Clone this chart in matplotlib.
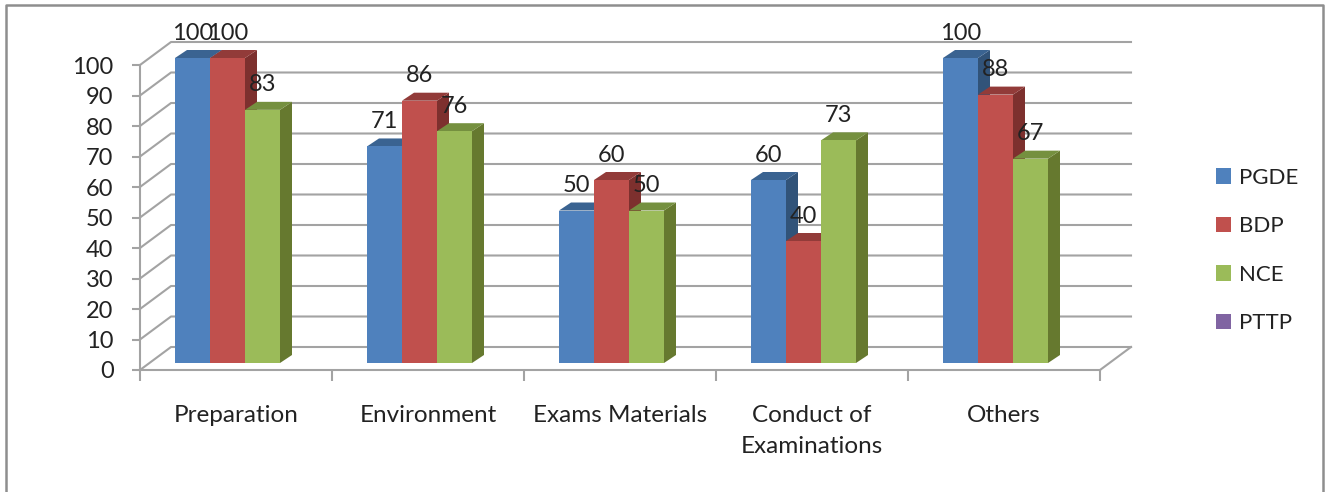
import matplotlib
matplotlib.use("Agg")
import matplotlib.pyplot as plt
from matplotlib.patches import Polygon, Patch
from matplotlib.lines import Line2D

plt.rcParams['font.family'] = ['Lato', 'DejaVu Sans']

categories = ["Preparation", "Environment", "Exams Materials", "Conduct of\nExaminations", "Others"]
series = ["PGDE", "BDP", "NCE", "PTTP"]
pgde = [100, 71, 50, 60, 100]
bdp = [100, 86, 60, 40, 88]
nce = [83, 76, 50, 73, 67]
yticks = list(range(0, 101, 10))

front = ["#4F81BD", "#C0504D", "#9BBB59", "#8064A2"]
top = ["#3A6391", "#923B39", "#75903F"]
side = ["#315379", "#7D302E", "#66792F"]
grid = "#a3a3a3"
txt = "#222222"

W, H = 1328, 492
fig = plt.figure(figsize=(W / 100, H / 100), dpi=100)

# front plane of the 3d box, pixel box 140..1100 x 65..370
ax = fig.add_axes([140 / W, 1 - 370 / H, 960 / W, 305 / H])
ax.set_xlim(0, 5)
ax.set_ylim(0, 100)
ux = 5 / 960    # data units per pixel
uy = 100 / 305

# wall / floor gridlines
dx, dy = 31 * ux, 23 * uy
for v in yticks:
    ax.plot([0, dx, 5 + dx], [v, v + dy, v + dy], color=grid, lw=1.5, clip_on=False, zorder=1)
ax.plot([5, 5 + dx], [0, dy], color=grid, lw=1.5, clip_on=False, zorder=1)

# bars
bw = 35 * ux
sx, sy = 12 * ux, 8 * uy
base = 7 * uy
start = 35 * ux
for i in range(len(categories)):
    for j, vals in enumerate([pgde, bdp, nce]):
        x0 = i + start + j * bw
        x1 = x0 + bw
        b = base
        t = vals[i] + base
        z = 2 + i + j * 0.1
        ax.add_patch(Polygon([(x1, b), (x1 + sx, b + sy), (x1 + sx, t + sy), (x1, t)],
                             fc=side[j], ec="none", zorder=z, clip_on=False))
        ax.add_patch(Polygon([(x0, t), (x0 + sx, t + sy), (x1 + sx, t + sy), (x1, t)],
                             fc=top[j], ec="none", zorder=z, clip_on=False))
        ax.add_patch(Polygon([(x0, b), (x1, b), (x1, t), (x0, t)],
                             fc=front[j], ec="none", zorder=z + 0.01, clip_on=False))
        ax.text((x0 + x1) / 2, t + 25 * uy, str(vals[i]), ha="center", va="center",
                fontsize=17, color=txt, zorder=20, clip_on=False)

# axes
for s in ["top", "right"]:
    ax.spines[s].set_visible(False)
for s in ["left", "bottom"]:
    ax.spines[s].set_color(grid)
    ax.spines[s].set_linewidth(1.5)
ax.spines["bottom"].set_zorder(15)
ax.patch.set_alpha(0)
ax.set_yticks(yticks)
ax.set_yticklabels([str(v) for v in yticks], fontsize=17, color=txt)
ax.tick_params(axis="y", length=6, width=1.5, color=grid, pad=13)
ax.set_xticks(range(6))
ax.set_xticklabels([])
ax.tick_params(axis="x", which="major", length=8, width=1.5, color=grid)
ax.set_xticks([i + 0.5 for i in range(5)], minor=True)
ax.set_xticklabels(categories, minor=True, fontsize=17.5, color=txt, linespacing=1.6)
ax.tick_params(axis="x", which="minor", length=0, pad=25)

# legend
handles = [Patch(fc=front[k], ec="none", label=series[k]) for k in range(4)]
ax.legend(handles=handles, loc="upper left", bbox_to_anchor=(1216 / W, 1 - 168 / H),
          bbox_transform=fig.transFigure, frameon=False, fontsize=16, labelcolor=txt,
          handlelength=0.68, handleheight=0.7, handletextpad=0.35, labelspacing=1.28,
          borderpad=0, borderaxespad=0)

# outer frame, open at the bottom
fx = [6 / W, 6 / W, 1323 / W, 1323 / W]
fy = [0, 1 - 5 / H, 1 - 5 / H, 0]
fig.add_artist(Line2D(fx, fy, color="#8e8e8e", lw=1.8))

fig.savefig("out.png", dpi=100)
